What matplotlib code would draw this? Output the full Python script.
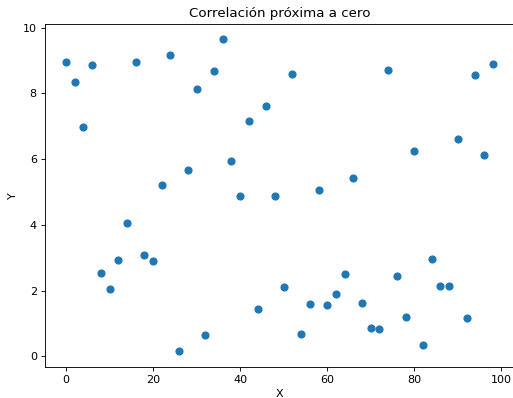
import matplotlib
matplotlib.use("Agg")
import matplotlib.pyplot as plt

x_values = list(range(0, 100, 2))
y_values = [8.94, 8.36, 6.99, 8.87, 2.52, 2.04, 2.92, 4.07, 8.94, 3.07,
            2.89, 5.20, 9.18, 0.15, 5.68, 8.12, 0.64, 8.69, 9.64, 5.94,
            4.89, 7.17, 1.43, 7.63, 4.89, 2.10, 8.59, 0.67, 1.58, 5.07,
            1.55, 1.91, 2.49, 5.43, 1.63, 0.86, 0.82, 8.70, 2.43, 1.21,
            6.26, 0.34, 2.97, 2.13, 2.13, 6.60, 1.18, 8.55, 6.12, 8.88]

title = "Correlación próxima a cero"
x_label = "X"
y_label = "Y"

fig, ax = plt.subplots(figsize=(513 / 80, 398 / 80), dpi=80)
ax.scatter(x_values, y_values, color="#1f77b4", s=40)
ax.set_title(title)
ax.set_xlabel(x_label)
ax.set_ylabel(y_label)
fig.subplots_adjust(left=0.087, right=1.002, bottom=0.078, top=0.94)
fig.savefig("out.png", dpi=80)
